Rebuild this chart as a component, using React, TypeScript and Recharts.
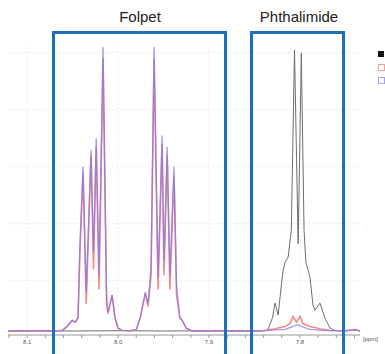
import React from 'react';
import { LineChart, Line, XAxis, YAxis, CartesianGrid } from 'recharts';

// spectra: [ppm, intensity]
const blackTrace: [number, number][] = [
  [8.121, 0.4], [8.09, 0.5], [8.05, 0.4], [8.0, 0.5], [7.95, 0.4], [7.9, 0.5], [7.86, 0.4],
  [7.8385, 0.5], [7.835, 1], [7.83, 5.3], [7.8275, 10.2], [7.824, 6], [7.819, 20.7],
  [7.8165, 24.5], [7.813, 26.3], [7.8095, 35.7], [7.806, 99], [7.802, 31], [7.7985, 97.8],
  [7.7955, 35.7], [7.7935, 24.5], [7.789, 19.3], [7.7857, 9.5], [7.7835, 7.7], [7.778, 10.2],
  [7.7725, 4.9], [7.767, 1.4], [7.7605, 0.5], [7.75, 0.4], [7.7396, 0.8], [7.734, 0.4],
];

const redTrace: [number, number][] = [
  [8.121, 0.4], [8.09, 0.5], [8.07, 0.4],
  [8.0615, 0.6], [8.056, 2], [8.0505, 4], [8.047, 3.5], [8.044, 5], [8.042, 27],
  [8.0385, 56], [8.035, 10], [8.0297, 62], [8.027, 22], [8.024, 65], [8.0209, 15],
  [8.0165, 96], [8.0126, 10], [8.011, 6.5], [8.0066, 13], [8.0033, 5], [8.0, 1.4],
  [7.9956, 0.6], [7.987, 0.5], [7.98, 0.8], [7.9757, 5], [7.97, 13.5], [7.967, 9],
  [7.9637, 20], [7.9604, 96], [7.956, 15], [7.9516, 66], [7.9495, 20], [7.946, 62],
  [7.943, 15], [7.9385, 55], [7.9357, 13], [7.932, 4.9], [7.9297, 4.2], [7.925, 1.4],
  [7.919, 0.5], [7.9, 0.4], [7.87, 0.5], [7.85, 0.4],
  [7.8385, 0.6], [7.8275, 1.2], [7.8165, 2], [7.811, 3], [7.8077, 5.5], [7.8038, 3.5],
  [7.8, 5.5], [7.7967, 3], [7.789, 2], [7.778, 1.2], [7.767, 0.6], [7.75, 0.5],
  [7.7396, 0.9], [7.734, 0.4],
];

const blueTrace: [number, number][] = [
  [8.121, 0.4], [8.09, 0.5], [8.07, 0.4],
  [8.0615, 0.5], [8.056, 2], [8.0505, 4.2], [8.047, 3.5], [8.044, 5], [8.042, 30],
  [8.0385, 58], [8.035, 14], [8.0297, 64], [8.027, 28], [8.024, 68], [8.0209, 20],
  [8.0165, 100], [8.0126, 12], [8.011, 7], [8.0066, 13], [8.0033, 5], [8.0, 1.4],
  [7.9956, 0.6], [7.987, 0.5], [7.98, 0.8], [7.9757, 5], [7.97, 14], [7.967, 10],
  [7.9637, 23], [7.9604, 100], [7.956, 19], [7.9516, 69], [7.9495, 25], [7.946, 65],
  [7.943, 20], [7.9385, 58], [7.9357, 16], [7.932, 5], [7.9297, 4.2], [7.925, 1.4],
  [7.919, 0.4], [7.9, 0.4], [7.87, 0.5], [7.85, 0.4],
  [7.8385, 0.5], [7.8165, 1], [7.8095, 1.8], [7.8025, 2.6], [7.797, 1.8], [7.789, 1],
  [7.7725, 0.5], [7.75, 0.5], [7.7396, 0.8], [7.734, 0.4],
];

const ppmTicks = [8.12, 8.1, 8.08, 8.06, 8.04, 8.02, 8.0, 7.98, 7.96, 7.94, 7.92, 7.9, 7.88, 7.86, 7.84, 7.82, 7.8, 7.78, 7.76, 7.74];
const gridLevels = [18, 38, 58, 78, 98];

const toRows = (t: [number, number][]) => t.map(([ppm, v]) => ({ ppm, v }));

const tickLabel = (v: number) =>
  Math.abs(v * 10 - Math.round(v * 10)) < 1e-6 ? v.toFixed(1) : '';

const box = (left: number, width: number): React.CSSProperties => ({
  position: 'absolute',
  left,
  top: 31,
  width,
  height: 340,
  border: '3px solid #1f6fbf',
  boxSizing: 'border-box',
});

const title: React.CSSProperties = {
  position: 'absolute',
  top: 8,
  fontFamily: 'Liberation Sans, Arial, sans-serif',
  fontSize: 15,
  color: '#222',
  transform: 'translateX(-50%)',
  whiteSpace: 'nowrap',
};

const App = () => {
  return (
    <div style={{ position: 'absolute', left: 0, top: 0, width: 385, height: 354, overflow: 'hidden', background: '#fff' }}>
      <LineChart width={385} height={354} margin={{ top: 47, right: 25, bottom: 5, left: 8 }}>
        <CartesianGrid stroke="#ececec" strokeDasharray="2 2" horizontalValues={gridLevels} verticalValues={[8.1, 8.0, 7.9, 7.8]} />
        <XAxis
          type="number"
          dataKey="ppm"
          domain={[7.734, 8.121]}
          reversed
          ticks={ppmTicks}
          tickFormatter={tickLabel}
          tick={{ fontSize: 6, fill: '#555', fontFamily: 'Liberation Sans, Arial' }}
          tickSize={3}
          stroke="#999"
          height={14}
          allowDataOverflow
        />
        <YAxis hide domain={[-1, 100]} />
        <Line data={toRows(blackTrace)} dataKey="v" type="linear" stroke="#6e6e6e" strokeWidth={1} dot={false} isAnimationActive={false} />
        <Line data={toRows(redTrace)} dataKey="v" type="linear" stroke="#f48a8a" strokeWidth={1.6} dot={false} isAnimationActive={false} />
        <Line data={toRows(blueTrace)} dataKey="v" type="linear" stroke="#7f78ea" strokeOpacity={0.75} strokeWidth={1.3} dot={false} isAnimationActive={false} />
      </LineChart>

      <div style={{ position: 'absolute', left: 363, top: 336, fontSize: 6, color: '#555', fontFamily: 'Liberation Sans, Arial' }}>[ppm]</div>

      <div style={box(52, 175)} />
      <div style={box(250, 95)} />
      <div style={{ ...title, left: 140 }}>Folpet</div>
      <div style={{ ...title, left: 299 }}>Phthalimide</div>

      <div style={{ position: 'absolute', left: 378, top: 51, width: 6, height: 6, background: '#111' }} />
      <div style={{ position: 'absolute', left: 378, top: 64, width: 5, height: 5, border: '1px solid #f4a0a0' }} />
      <div style={{ position: 'absolute', left: 378, top: 77, width: 5, height: 5, border: '1px solid #a8a0f0' }} />
    </div>
  );
};

export default App;
